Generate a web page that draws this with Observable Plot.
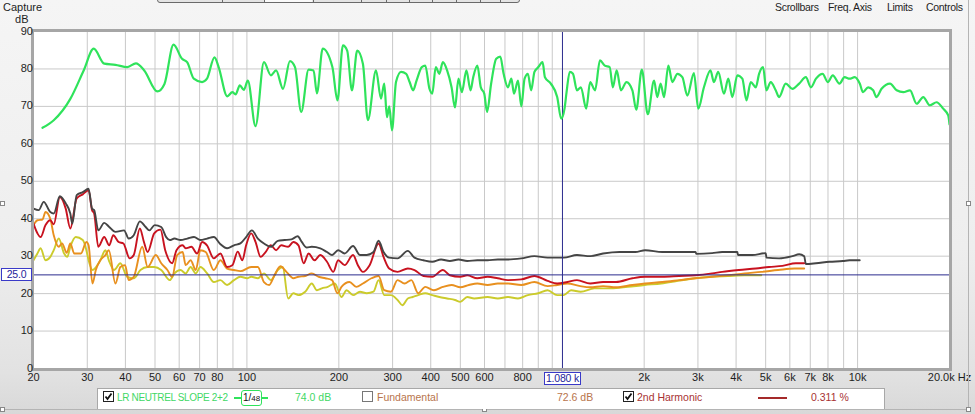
<!DOCTYPE html>
<html><head><meta charset="utf-8">
<script src="https://cdn.jsdelivr.net/npm/d3@7"></script>
<script src="https://cdn.jsdelivr.net/npm/@observablehq/plot@0.6"></script>
<style>
body{margin:0;background:#ececec;}
#wrap{position:relative;width:975px;height:414px;overflow:hidden;font-family:"Liberation Sans",Arial,sans-serif;font-size:10.5px;color:#1e1e1e;background:linear-gradient(#f5f5f5 0%,#eeeeee 60%,#e2e2e2 90%,#d8d8d8 100%);}
#wrap svg.plot{position:absolute;left:0;top:0;}
.abs{position:absolute;white-space:nowrap;line-height:13px;}
.cb{position:absolute;width:11px;height:11px;border:1px solid #222;background:#fff;box-sizing:border-box;}
.cur{position:absolute;border:1px solid #3a3ac8;background:#fff;color:#24249a;text-align:center;line-height:11px;font-size:10.5px;white-space:nowrap;letter-spacing:-0.2px;box-sizing:border-box;}
.hdl{position:absolute;width:5px;height:5px;border:1px solid #888;background:#fff;box-sizing:border-box;}
</style></head><body>
<div id="wrap"></div>
<script>
// ---- data ----
const responseHz = [21.4,23.3,26.4,29.2,31.5,34.1,37.1,40.6,43.3,46.1,50.9,53.7,57.5,61.3,63.7,67.0,71.3,74.0,78.3,80.8,86.2,89.6,91.8,94.8,97.7,100.7,106.7,113.7,119.8,124.6,131.3,138.3,143.7,150.6,159.2,165.3,169.5,177.1,190.5,197.9,206.3,213,220.8,229.7,239.8,249,264.7,274.8,281.7,287.5,292.6,298.6,307.8,319.8,332.4,341.1,350.2,359.4,373.9,383.8,396.1,404.6,415.4,426.7,438.2,452.5,468,480.3,493,505.8,523.4,540,551,568.4,583.4,598.8,611.6,630.8,655.4,675.7,693,716,734.6,749.4,772.4,791.9,811.7,832,852.9,874.4,900.7,929.6,946.4,989.1,1038,1070,1097,1114,1141,1169,1205,1241,1292,1331,1381,1433,1486,1542,1579,1626,1679,1750,1830,1884,1965,2055,2155,2208,2264,2323,2400,2474,2569,2667,2770,2911,3007,3139,3298,3383,3496,3650,3773,3888,4038,4193,4325,4468,4642,4758,4903,5027,5193,5393,5530,5817,6118,6436,6770,7033,7307,7685,7984,8294,8724,9064,9416,9783,10164,10420,10826,11247,11530,11980,12770,13430,14120,14850,15610,16410,17250,18140,19070,19810,20000];
const responseDb = [64.3,66.3,72,79.6,85.4,81.4,81.1,80.5,81.5,79.6,74,76,86.5,82.7,81.8,77.4,76.5,77.4,83.1,80.5,72.7,73.8,73.2,75.6,74.4,76.9,64.7,81.8,78.3,79.6,74.7,82.1,80.5,68.5,79.8,79.6,73.5,85.4,80.5,71.6,86.3,84.9,74.3,84.9,81.4,66.3,79.6,72.1,76.1,67.1,70,63.6,76.5,79.2,78.7,76.5,74.3,76.9,80.5,80.9,74.7,73.4,80.5,78.7,81.8,79.6,75.1,69.7,77.4,73.8,79.6,74.3,77.8,80.9,75.1,73.4,68.5,76.1,82.7,83.3,78.7,75.1,77.4,73.4,76.9,70,77.4,78.7,74.3,79.2,80.5,81.8,77.8,76.1,72.5,66.7,69.4,73.8,79.2,78.7,74.3,75.1,69.4,76.5,74.3,82.3,80.9,80.5,75.1,79.6,74.3,76.5,74.3,69.1,79.8,67.9,76.9,72.5,76.1,72.5,80.9,76.5,78.7,77.8,72.9,78.9,69.4,75.1,79.6,76.5,79.2,73.4,77.4,72.5,78.3,77.4,71.6,76.5,75.1,78.7,80.5,74.3,76.5,74.3,72.5,76.1,74.7,76.1,77.8,75.1,77.4,78.7,76.5,78.3,76.1,77.8,77.4,77.8,76.1,73.8,75.1,74.3,72.5,74.7,76.1,74.3,73.8,74.3,70.7,72.5,70.3,71.1,69.4,67.6,65.2];

const totalHz = [20,20.8,21.6,22.7,23.3,24.4,25.5,26.4,26.8,27.7,29.0,30.3,31.1,31.6,32.6,34.1,35.4,37.1,39.6,41.0,42.6,44.6,46.6,47.9,49.9,52.4,54.4,55.9,57.9,60.6,63.8,67.1,70.4,74.1,77.9,81.9,86.1,90.7,95.2,99.4,103.8,108.6,113.7,119.8,126.2,132.9,139.9,146.7,151.2,157.1,163.1,173.9,182.9,190,198.9,208.9,222.6,234.5,246.8,259.7,269.9,280.2,292.3,311.4,336.5,353.8,378.8,404.6,432.3,461.9,493.2,526.6,568.4,614.1,663.4,716,792,874,965,1091,1205,1331,1467,1661,1870,2016,2293,2602,2947,2965,3340,3603,4038,4060,4524,5002,5030,5530,6118,6436,6686,6770,7307,8089,8950,9416,10164];
const totalDb = [42.7,42.3,44.5,41.8,41.4,46,44.1,41.4,38.7,46.3,47.1,48.0,42.7,42.3,36.9,38.9,37.8,36.5,36.9,34.7,35.6,39.3,37.8,36.9,38.3,37.8,35.1,34.3,34.7,34.3,34.7,35.1,34.3,34.7,35.1,33.2,32.1,32.9,33.4,35.1,36.9,34.7,33.4,32.5,34.1,34.3,34.5,35.3,33.8,32.3,32.5,32.1,31.1,30.3,31.6,30.7,32.7,30.3,30.3,31.1,34.1,31.1,29.6,29.4,31.4,29.6,28.9,28.5,29.1,28.7,29.1,28.7,28.9,28.9,29.1,29.1,29.4,30.0,29.6,29.6,30.3,30.0,30.7,31.1,31.1,31.6,31.1,31.1,31.1,30.6,30.8,31.1,31.1,30.3,30.3,30.8,29.6,29.4,30.0,30.5,30.0,27.9,28.1,28.5,28.7,28.9,28.9];

const h2Hz = [20,20.6,21.1,21.9,22.7,23.3,24.4,25.5,26.4,27.7,29.0,30.3,31.1,31.6,32.6,34.1,35.4,36.5,38.0,39.4,41.3,42.6,44.6,46.0,47.3,49.7,52.1,54.0,56.9,58.8,61.6,63.0,65.8,68.7,71.3,74.0,77.9,81.9,86.1,89.6,93.3,96.6,99.4,103.3,106.7,110.9,115.1,119.8,124.6,129.5,136.5,141.9,147.5,153.4,159.2,166.6,173.9,182.9,191.9,198.9,208.9,222.6,230.9,239.8,252.3,269.9,280.2,292.3,311.4,336.5,353.8,378.8,404.6,438.2,461.9,499.8,526.6,568.4,614.1,663.4,716,792,874,965,1038,1121,1205,1331,1467,1618,1830,2016,2293,2602,2947,3340,3603,4088,4642,5127,5674,6280,6686];
const h2Db = [38.7,36.1,35.1,38.3,39.6,38.5,45.8,42.7,37.4,45.4,46.5,47.6,42.3,41.4,32.5,35.1,32.9,35.6,33.8,33.4,29.4,30.3,37.4,33.8,31.1,36.1,37.1,31.6,28.1,31.6,32.9,32.1,32.5,30.7,33.8,32.9,29.4,30.7,27.1,27.6,31.2,28.9,32.9,36.1,33.8,29.8,31.1,32.9,31.6,32.9,32.5,33.8,32.9,28.1,30.7,28.9,30.3,28.5,25.8,28.9,27.6,30.3,27.6,25.8,27.6,33.4,29.8,26.7,25.8,26.7,26.3,24.7,24.5,26.3,24.9,24.5,24.9,24.1,24.5,24.1,23.6,23.8,24.7,23.4,22.7,23.1,23.6,22.7,23.1,23.1,24.1,24.5,24.5,24.7,24.9,25.4,25.8,26.3,26.7,27.1,27.4,28.1,28.1];

const h3Hz = [20,20.6,21.4,21.9,22.7,23.3,24.2,24.8,25.7,26.4,27.2,28.6,29.8,30.3,31.2,32.0,33.1,34.4,35.3,37.1,38.5,39.9,41.0,42.6,45.4,47.3,50.3,52.4,54.9,56.9,59.1,61.6,63.0,65.4,68.0,70.4,73.3,77.9,81.9,86.1,90.7,95.2,103.3,108.6,113.7,118.3,123.1,128.8,134.7,141.9,147.5,155.2,163.1,171.8,180.6,190,197.9,204,216.8,228,239.8,255.7,269.9,281.7,296.4,311.4,328.3,345.6,363.8,383.8,409.9,438.2,468,499.8,533.4,568.4,614.1,663.4,716,792,874,965,1038,1121,1235,1331,1467,1618,1830,2016,2293,2602,2947,3340,3764,4266,4838,5488,6220,6686];
const h3Db = [38.3,39.6,39.8,41.8,40.0,35.6,32.5,33.4,30.9,33.4,30.7,30.7,33.8,32.9,22.7,26.3,28.9,30.3,31.6,22.7,27.1,27.6,23.6,24.5,32.5,27.1,30.3,28.1,26.3,24.5,30.3,31.1,27.6,28.9,26.3,31.6,31.1,26.3,28.9,26.7,26.3,26.0,27.1,27.1,23.1,22.3,24.9,27.3,25.8,24.1,24.5,24.7,25.4,24.5,24.1,23.6,20.1,21.8,23.1,21.8,22.7,24.1,24.7,20.9,20.5,23.6,22.7,23.6,20.1,21.8,20.9,21.8,22.3,21.7,22.3,22.7,22.3,22.7,22.7,22.3,23.1,22.0,22.3,22.7,22.0,21.7,22.0,21.7,22.3,22.7,23.1,23.6,24.1,24.5,24.9,25.4,25.8,26.3,26.7,26.7];

const h4Hz = [20,20.6,21.1,21.9,22.7,23.3,24.2,25.2,25.8,26.4,27.5,29.0,29.8,30.3,31.2,33.1,34.4,35.3,36.7,38.5,40.5,42.6,44.8,47.3,49.7,52.4,55.9,57.9,60.6,63.0,65.4,68.0,70.4,74.1,77.9,81.9,86.1,90.7,95.2,100.2,103.3,108.6,113.7,119.8,126.2,131,136.5,141.9,147.5,155.2,163.1,169.5,176,184,194,204,212,222.6,234.5,246.8,259.7,269.9,281.7,296.4,311.4,323,336.5,349,363.8,383.8,404.6,426.7,452.5,480.3,499.8,526.6,555,614.1,663.4,716,772,832,900,965,1038,1091,1152,1239,1374,1560,1768,2006,2276,2580,2928,3322,3764,4266,4838];
const h4Db = [28.9,30.7,32.1,28.9,29.8,31.6,34.7,30.7,29.8,32.5,35.1,34.3,31.6,28.9,26.3,28.9,31.6,28.9,26.3,28.1,24.5,24.1,26.3,27.1,27.1,26.3,23.6,25.4,26.3,25.4,27.1,25.4,27.1,25.4,23.1,23.6,22.3,23.6,24.5,24.1,24.5,24.1,25.4,23.6,26.3,27.1,18.7,20.1,19.6,20.5,22.7,20.9,21.4,21.8,22.7,19.1,20.9,19.6,20.5,20.1,20.5,23.6,19.6,19.6,18.3,16.9,18.7,19.1,19.6,20.1,19.6,19.1,18.7,18.3,17.8,19.1,18.7,19.1,18.7,19.1,18.7,19.6,20.1,20.9,19.6,19.6,20.9,20.5,21.4,21.4,21.8,22.3,22.7,23.4,24.1,24.5,24.7,24.9,24.9];

const xTickValues = [20,30,40,50,60,70,80,100,200,300,400,500,600,800,2000,3000,4000,5000,6000,7000,8000,10000,20000];
const xGridValues = [30,40,50,60,70,80,90,100,200,300,400,500,600,700,800,900,1000,2000,3000,4000,5000,6000,7000,8000,9000,10000];
const yTickValues = [0,10,20,30,40,50,60,70,80,90];
const cursorHz = 1080;
const cursorDb = 25.0;

const rows = (hz, db) => hz.map((f, i) => ({f, db: db[i]}));
const fmtHz = f => f === 20000 ? "20.0k Hz" : f >= 1000 ? (f / 1000) + "k" : String(f);
const font = '"Liberation Sans", Arial, sans-serif';

const chart = Plot.plot({
  width: 975, height: 414,
  marginLeft: 33, marginRight: 26, marginTop: 31, marginBottom: 46,
  style: {background: "transparent", fontFamily: font, fontSize: "11px", color: "#1e1e1e", overflow: "visible"},
  x: {type: "log", domain: [20, 20000], label: null, axis: null},
  y: {domain: [0, 90], label: null, axis: null},
  marks: [
    Plot.frame({fill: "white"}),
    Plot.ruleX(xGridValues, {stroke: "#c9c9c9", strokeWidth: 1}),
    Plot.ruleY(yTickValues.slice(1, -1), {stroke: "#c9c9c9", strokeWidth: 1}),
    Plot.lineY(rows(h4Hz, h4Db), {x: "f", y: "db", stroke: "#cbcb2c", strokeWidth: 1.9, curve: "monotone-x"}),
    Plot.lineY(rows(h3Hz, h3Db), {x: "f", y: "db", stroke: "#e8901f", strokeWidth: 1.9, curve: "monotone-x"}),
    Plot.lineY(rows(h2Hz, h2Db), {x: "f", y: "db", stroke: "#c8121f", strokeWidth: 1.9, curve: "monotone-x"}),
    Plot.lineY(rows(totalHz, totalDb), {x: "f", y: "db", stroke: "#454545", strokeWidth: 1.9, curve: "monotone-x"}),
    Plot.ruleY([cursorDb], {stroke: "#2b2b8e", strokeWidth: 1}),
    Plot.ruleX([cursorHz], {stroke: "#2b2b8e", strokeWidth: 1}),
    Plot.lineY(rows(responseHz, responseDb), {x: "f", y: "db", stroke: "#2fe35b", strokeWidth: 2.2, curve: "monotone-x"}),
    Plot.frame({stroke: "#a6a6a6", strokeWidth: 3, inset: -1}),
    Plot.text(xTickValues, {x: d => d, text: fmtHz, frameAnchor: "bottom", dy: 12, fontSize: 11}),
    Plot.text(yTickValues, {y: d => d, text: d => String(d), frameAnchor: "left", dx: d => d === 0 ? -9 : -6, dy: d => d === 0 ? -4 : 0, textAnchor: "end", fontSize: 11}),
    Plot.text(["dB"], {frameAnchor: "top-left", dx: -5, dy: -16, textAnchor: "end", fontSize: 11})
  ]
});

const wrap = document.getElementById("wrap");
wrap.appendChild(chart);
const sx = chart.scale("x"), sy = chart.scale("y");

function add(html) { wrap.insertAdjacentHTML("beforeend", html); }
const check = '<svg width="9" height="9" style="position:absolute;left:0;top:0"><polyline points="1.5,4.5 3.5,7 7.5,1.5" fill="none" stroke="#111" stroke-width="1.8"/></svg>';

// window chrome
add('<div class="abs" style="left:3px;top:1px;font-size:11px">Capture</div>');
add('<div class="abs" style="left:157px;top:-8px;width:363px;height:11px;border:1px solid #6a6a6a;border-radius:0 0 3px 3px;background:#e4e4e4;box-sizing:border-box"></div>');
[222,264,313,361,386,409,432,456,480,500].forEach(x => add(`<div class="abs" style="left:${x}px;top:0;width:1px;height:3px;background:#6a6a6a"></div>`));
add('<div class="abs" style="left:265px;top:0;width:47px;height:2px;background:#fafafa"></div>');
add('<div class="abs" style="left:775px;top:1px;letter-spacing:-0.3px">Scrollbars</div>');
add('<div class="abs" style="left:828px;top:1px;letter-spacing:-0.3px">Freq. Axis</div>');
add('<div class="abs" style="left:887px;top:1px;letter-spacing:-0.3px">Limits</div>');
add('<div class="abs" style="left:926px;top:1px;letter-spacing:-0.3px">Controls</div>');
add('<div class="abs" style="left:968px;top:0;width:1px;height:409px;background:#b4b4b4"></div>');
add('<div class="abs" style="left:0;top:409px;width:969px;height:1px;background:#b4b4b4"></div>');
add('<div class="hdl" style="left:0;top:201px"></div><div class="hdl" style="left:966px;top:201px"></div><div class="hdl" style="left:482px;top:407px"></div><div class="hdl" style="left:966px;top:407px"></div><div class="hdl" style="left:0;top:407px"></div>');

// cursor readouts
const cy = sy.apply(cursorDb), cx = sx.apply(cursorHz);
add(`<div class="cur" style="left:1px;top:${cy - 6}px;width:31px;height:13px">${cursorDb.toFixed(1)}</div>`);
add(`<div class="cur" style="left:${cx - 18}px;top:372px;width:37px;height:13px">${(cursorHz/1000).toFixed(3)} k</div>`);

// legend
add('<div class="abs" style="left:97px;top:388px;width:788px;height:21px;background:#fff;border:1px solid #a8a8a8;border-bottom:none;box-sizing:border-box"></div>');
add(`<div class="cb" style="left:103px;top:391px">${check}</div>`);
add('<div class="abs" style="left:117px;top:391px;color:#3fd866;font-size:10px;letter-spacing:-0.35px">LR NEUTREL SLOPE 2+2</div>');
add('<div class="abs" style="left:234px;top:397px;width:34px;height:2px;background:#2fe35b"></div>');
add('<div class="abs" style="left:241px;top:390px;width:21px;height:16px;border:1.5px solid #2fe35b;border-radius:3px;background:#fff;box-sizing:border-box;font-size:10px;line-height:13px;text-align:center;color:#111">1/<span style="font-size:8px">48</span></div>');
add('<div class="abs" style="left:295px;top:391px;color:#3fd866">74.0 dB</div>');
add('<div class="cb" style="left:362px;top:391px;border-color:#777"></div>');
add('<div class="abs" style="left:377px;top:391px;color:#b8744c">Fundamental</div>');
add('<div class="abs" style="left:557px;top:391px;color:#b8744c">72.6 dB</div>');
add(`<div class="cb" style="left:623px;top:391px">${check}</div>`);
add('<div class="abs" style="left:637px;top:391px;color:#a83232">2nd Harmonic</div>');
add('<div class="abs" style="left:758px;top:397px;width:29px;height:2px;background:#a52a2a"></div>');
add('<div class="abs" style="left:811px;top:391px;color:#a83232">0.311 %</div>');
</script>
</body></html>
